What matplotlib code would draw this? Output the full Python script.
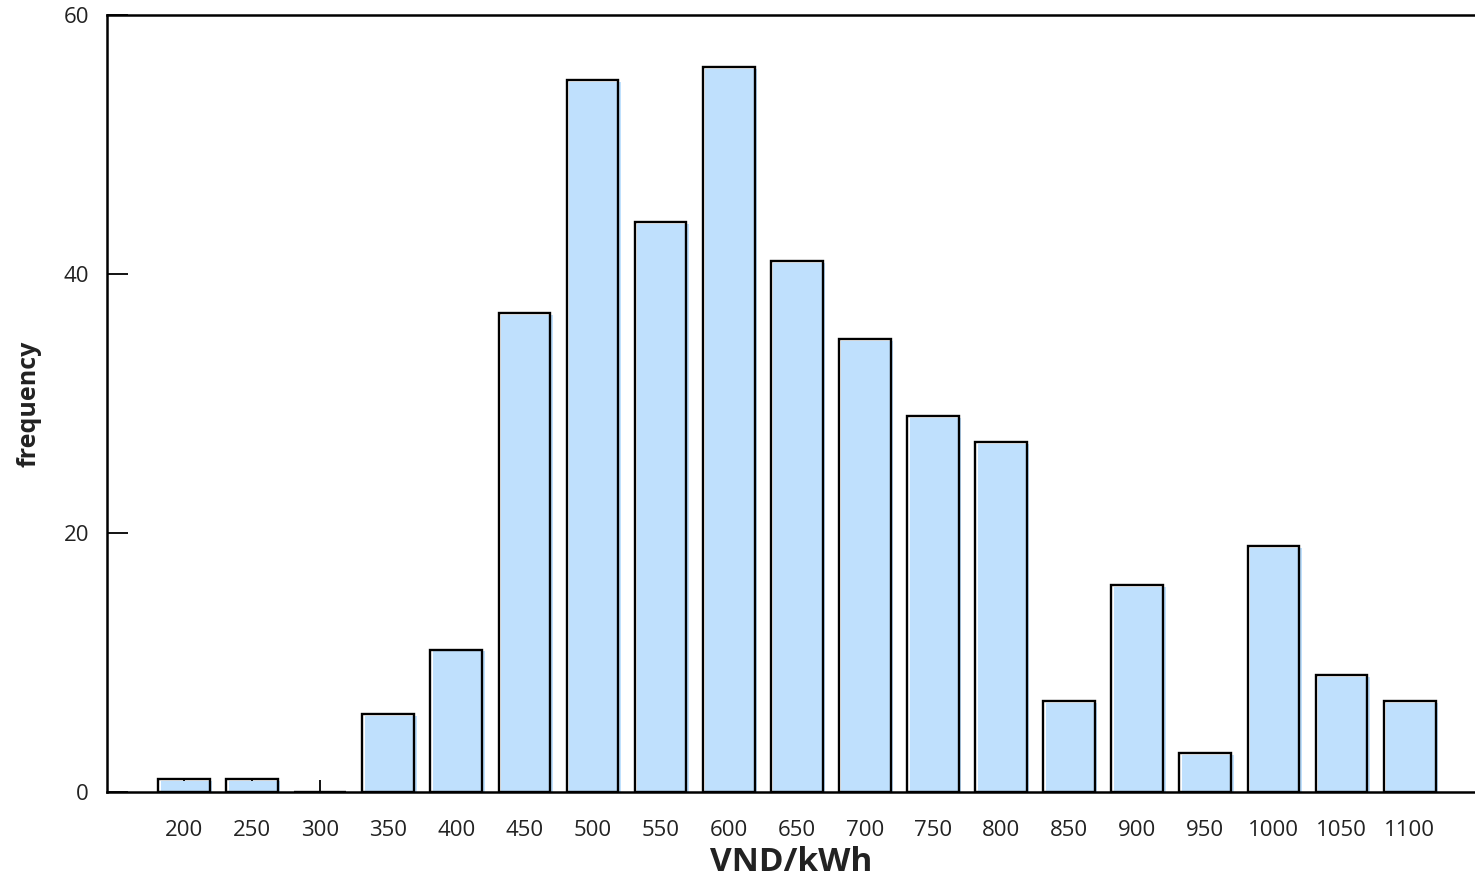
import matplotlib
matplotlib.use("Agg")
import matplotlib.pyplot as plt

categories = [200, 250, 300, 350, 400, 450, 500, 550, 600, 650, 700, 750, 800, 850, 900, 950, 1000, 1050, 1100]
frequency = [1, 1, 0, 6, 11, 37, 55, 44, 56, 41, 35, 29, 27, 7, 16, 3, 19, 9, 7]
yticks = [0, 20, 40, 60]

plt.rcParams['font.family'] = ['Open Sans', 'DejaVu Sans']

fig = plt.figure(figsize=(14.75, 8.83), dpi=100)
ax = fig.add_axes([107/1475, 91/883, 1 - 107/1475, (792-15)/883])

width = 38
ax.bar([c + 1.8 for c in categories], frequency, width=width, bottom=[-0.15]*len(categories),
       color='#bfe0fd', edgecolor='none', zorder=2)
ax.bar(categories, frequency, width=width, facecolor='none', edgecolor='black', linewidth=1.7, zorder=3)

ax.set_xlim(143.5, 1148)
ax.set_ylim(0, 60)
ax.set_xticks(categories)
ax.set_xticklabels([str(c) for c in categories])
ax.set_yticks(yticks)

ax.spines['right'].set_visible(False)
for s in ['left', 'top', 'bottom']:
    ax.spines[s].set_linewidth(1.8)
    ax.spines[s].set_color('black')
    ax.spines[s].set_zorder(4)

ax.tick_params(axis='y', direction='in', length=15, width=1.3, pad=13, labelsize=16, labelcolor='#222222')
ax.tick_params(axis='x', direction='in', length=8.5, width=1.3, pad=20, labelsize=16, labelcolor='#222222')
for t in ax.get_xticklines() + ax.get_yticklines():
    t.set_zorder(5)

ax.set_ylabel('frequency', fontsize=18, fontweight='bold', color='#222222', labelpad=16)
ax.set_xlabel('VND/kWh', fontsize=24, fontweight='bold', color='#222222', labelpad=4)

fig.savefig('out.png', dpi=100)
